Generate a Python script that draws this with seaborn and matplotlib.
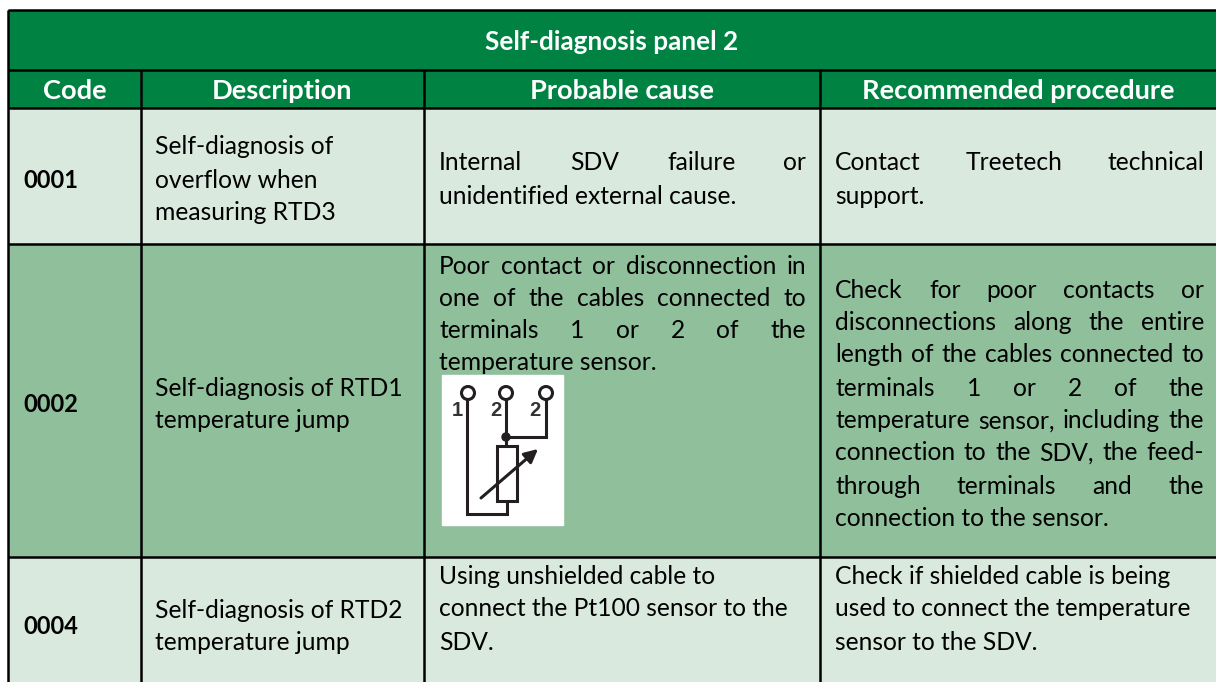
#self diagnosis table redrawn with seaborn
import numpy as np
import pandas as pd
import matplotlib
matplotlib.use("Agg")
import matplotlib.pyplot as plt
from matplotlib.colors import ListedColormap
from matplotlib.patches import Circle, Rectangle
import seaborn as sns

sns.set_theme(style="white")
plt.rcParams['font.family'] = ['Lato', 'DejaVu Sans']

W, H = 1216, 682
TEXT_SIZE = 17.7
TEXT_COLOUR = "#000000"

title = "Self-diagnosis panel 2"
col_names = ["Code", "Description", "Probable cause", "Recommended procedure"]
codes = ["0001", "0002", "0004"]
code_y = [178, 403, 625]

# (text, centre y, justified)
descriptions = [("Self-diagnosis of", 145), ("overflow when", 178), ("measuring RTD3", 210),
                ("Self-diagnosis of RTD1", 386), ("temperature jump", 418),
                ("Self-diagnosis of RTD2", 608), ("temperature jump", 641)]
causes = [("Internal SDV failure or", 161, True), ("unidentified external cause.", 194, False),
          ("Poor contact or disconnection in", 264, True),
          ("one of the cables connected to", 296, True),
          ("terminals 1 or 2 of the", 328, True),
          ("temperature sensor.", 361, False),
          ("Using unshielded cable to", 575, False),
          ("connect the Pt100 sensor to the", 607, False),
          ("SDV.", 640, False)]
procedures = [("Contact Treetech technical", 161, True), ("support.", 194, False),
              ("Check for poor contacts or", 289, True),
              ("disconnections along the entire", 321, True),
              ("length of the cables connected to", 353, True),
              ("terminals 1 or 2 of the", 386, True),
              ("temperature sensor, including the", 419, True),
              ("connection to the SDV, the feed-", 451, True),
              ("through terminals and the", 484, True),
              ("connection to the sensor.", 516, False),
              ("Check if shielded cable is being", 575, False),
              ("used to connect the temperature", 607, False),
              ("sensor to the SDV.", 640, False)]

# table geometry in image pixels
row_edges = [10, 70, 108, 244, 557, 682]
row_colours = [1, 1, 2, 3, 2]
col_edges = [8, 141, 424, 820, 1216]
palette = ["#ffffff", "#008243", "#dae9de", "#90bf9b"]

# sensor symbol
symbol_box = [442, 375, 121, 150]
terminal_x = [468, 506, 546]
terminal_y = 393
terminal_labels = ["1", "2", "2"]
label_x = [457, 496, 535]
wire_1_x = [467, 467, 507, 507]
wire_1_y = [399, 514, 514, 501]
wire_2_x = [506, 506]
wire_2_y = [399, 446]
wire_3_x = [506, 546, 546]
wire_3_y = [437, 437, 399]

# one code per pixel so the heatmap axes are image coordinates
grid = np.zeros((H, W), dtype=int)
for i, code in enumerate(row_colours):
    grid[row_edges[i]:row_edges[i + 1], col_edges[0]:] = code
df = pd.DataFrame(grid)

fig = plt.figure(figsize=(W / 100, H / 100), dpi=100)
ax = fig.add_axes([0, 0, 1, 1])
sns.heatmap(df, cmap=ListedColormap(palette), vmin=0, vmax=3, cbar=False,
            xticklabels=False, yticklabels=False, ax=ax, rasterized=True)
ax.set_xlim(0, W)
ax.set_ylim(H, 0)
ax.axis("off")

# borders
lw = 1.8
ax.hlines(row_edges[:-1], col_edges[0], W, color="black", lw=lw)
ax.vlines(col_edges[0], row_edges[0], H, color="black", lw=lw)
ax.vlines(col_edges[1:-1], row_edges[1], H, color="black", lw=lw)

fig.canvas.draw()
renderer = fig.canvas.get_renderer()


def put_line(text, y, x0, x1, justified=False):
    if not justified:
        ax.text(x0, y, text, fontsize=TEXT_SIZE, color=TEXT_COLOUR, va="center_baseline")
        return
    # justified: share the free space out between the words
    words = text.split()
    widths = []
    for w in words:
        t = ax.text(0, 0, w, fontsize=TEXT_SIZE)
        widths.append(t.get_window_extent(renderer).width)
        t.remove()
    gap = (x1 - x0 - sum(widths)) / (len(words) - 1)
    x = x0
    for w, wd in zip(words, widths):
        ax.text(x, y, w, fontsize=TEXT_SIZE, color=TEXT_COLOUR, va="center_baseline")
        x += wd + gap


ax.text((col_edges[0] + W) / 2, 40, title, color="white", fontsize=18.8,
        fontweight="bold", ha="center", va="center_baseline")
for i, name in enumerate(col_names):
    ax.text((col_edges[i] + col_edges[i + 1]) / 2, 89, name, color="white", fontsize=19.6,
            fontweight="bold", ha="center", va="center_baseline")
for code, y in zip(codes, code_y):
    ax.text(23, y, code, fontsize=17, fontweight="bold", color=TEXT_COLOUR, va="center_baseline")
for text, y in descriptions:
    put_line(text, y, 155, 410)
for text, y, just in causes:
    put_line(text, y, 439, 806, just)
for text, y, just in procedures:
    put_line(text, y, 835, 1204, just)

# sensor symbol
ink = "#231f20"
ax.add_patch(Rectangle((symbol_box[0], symbol_box[1]), symbol_box[2], symbol_box[3], color="white", zorder=3))
for xs, ys in [(wire_1_x, wire_1_y), (wire_2_x, wire_2_y), (wire_3_x, wire_3_y)]:
    ax.plot(xs, ys, color=ink, lw=2.2, zorder=4, solid_joinstyle="miter")
for x, lab, lx in zip(terminal_x, terminal_labels, label_x):
    ax.add_patch(Circle((x, terminal_y), 6.5, fc="white", ec=ink, lw=2.2, zorder=5))
    ax.text(lx, 411, lab, fontsize=14.5, fontweight="bold", family="Liberation Sans", color="#333333",
            ha="center", va="center", zorder=5)
ax.add_patch(Circle((506, 437), 4, color=ink, zorder=5))
ax.add_patch(Rectangle((497, 446), 20, 55, fc="none", ec=ink, lw=2.2, zorder=5))
ax.annotate("", xy=(538, 449), xytext=(481, 498), zorder=6,
            arrowprops=dict(arrowstyle="-|>", color=ink, lw=2.2, mutation_scale=20, shrinkA=0, shrinkB=0))

fig.savefig("out.png", dpi=100)
